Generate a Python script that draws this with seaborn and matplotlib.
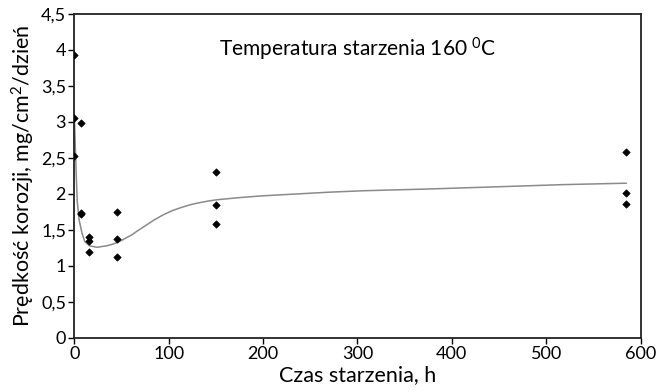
import matplotlib
matplotlib.use("Agg")
import matplotlib.pyplot as plt
import seaborn as sns
import pandas as pd

# Measured corrosion rate after ageing at 160 °C
age_hours = [0, 0, 0, 7, 7, 7, 15, 15, 15, 45, 45, 45, 150, 150, 150, 585, 585, 585]
corrosion_rate = [3.93, 3.06, 2.53, 2.99, 1.74, 1.72, 1.40, 1.35, 1.20,
                  1.75, 1.37, 1.13, 2.31, 1.85, 1.58, 2.59, 2.01, 1.86]

# Trend line through the measurements
trend_hours = [0, 1, 2, 3, 5, 8, 11, 16, 24, 34, 40, 45, 50, 54, 60, 66, 73,
               84, 94, 104, 115, 124, 133, 141, 151, 163, 175, 200, 235, 270,
               306, 377, 448, 518, 585]
trend_rate = [3.07, 2.65, 2.25, 1.90, 1.64, 1.46, 1.34, 1.28, 1.26, 1.28,
              1.30, 1.325, 1.355, 1.385, 1.425, 1.48, 1.54, 1.635, 1.71,
              1.77, 1.82, 1.855, 1.88, 1.90, 1.92, 1.935, 1.95, 1.975, 2.00,
              2.025, 2.045, 2.07, 2.10, 2.13, 2.15]

x_ticks = [0, 100, 200, 300, 400, 500, 600]
y_ticks = [0, 0.5, 1, 1.5, 2, 2.5, 3, 3.5, 4, 4.5]
y_tick_labels = ["0", "0,5", "1", "1,5", "2", "2,5", "3", "3,5", "4", "4,5"]

points = pd.DataFrame({"h": age_hours, "rate": corrosion_rate})
trend = pd.DataFrame({"h": trend_hours, "rate": trend_rate})

sns.set_theme(style="ticks")
plt.rcParams["font.family"] = ["Lato", "DejaVu Sans"]
plt.rcParams["mathtext.fontset"] = "custom"
plt.rcParams["mathtext.rm"] = "Lato"
plt.rcParams["mathtext.it"] = "Lato"
plt.rcParams["mathtext.sf"] = "Lato"

fig = plt.figure(figsize=(6.56, 3.92), dpi=100)
ax = fig.add_axes([0.1134, 0.1378, 0.8631, 0.8265])

sns.lineplot(data=trend, x="h", y="rate", ax=ax, color="#8a8a8a",
             linewidth=1.1, sort=False, estimator=None)
sns.scatterplot(data=points, x="h", y="rate", ax=ax, marker="D", s=14,
                color="black", edgecolor="black", linewidth=0.5, zorder=3)

ax.set_xlim(0, 600)
ax.set_ylim(0, 4.5)
ax.set_xticks(x_ticks)
ax.set_xticklabels([str(t) for t in x_ticks])
ax.set_yticks(y_ticks)
ax.set_yticklabels(y_tick_labels)
ax.tick_params(axis="both", direction="out", length=4, width=1,
               labelsize=13, colors="black", pad=2)

for side in ["left", "right", "top", "bottom"]:
    ax.spines[side].set_visible(True)
    ax.spines[side].set_color("#222222")
    ax.spines[side].set_linewidth(1.3)

ax.set_xlabel("Czas starzenia, h", fontsize=15.5, color="black", labelpad=2)
ax.set_ylabel(r"Prędkość korozji, mg/cm$^{2}$/dzień", fontsize=15.5,
              color="black", labelpad=3)

ax.text(0.5, 0.892, r"Temperatura starzenia 160 $^{\mathsf{0}}$C",
        transform=ax.transAxes, ha="center", va="center", fontsize=15,
        color="black")

fig.savefig("out.png", dpi=100)
